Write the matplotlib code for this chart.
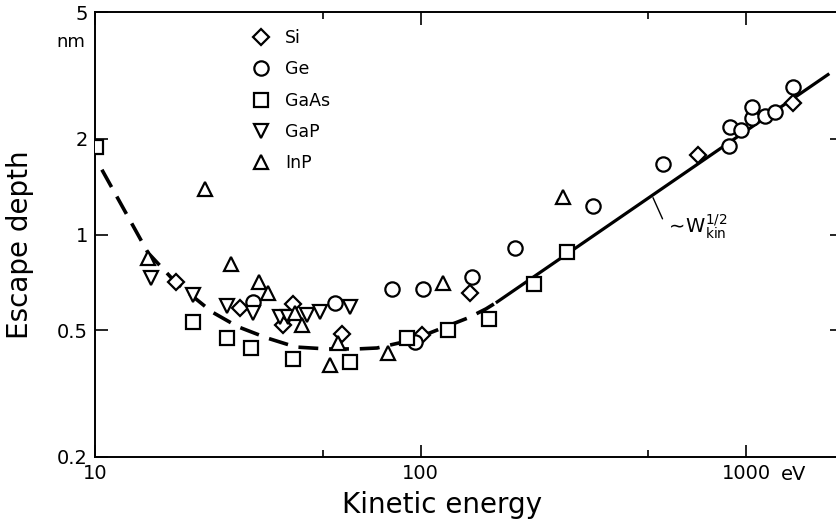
import numpy as np
import matplotlib
matplotlib.use("Agg")
import matplotlib.pyplot as plt
from matplotlib.ticker import FixedLocator, NullFormatter

plt.rcParams['font.family'] = ['DejaVu Sans']
plt.rcParams['mathtext.fontset'] = 'dejavusans'

# escape depth (nm) vs kinetic energy (eV)
si_E = [17.7, 27.9, 40.6, 37.8, 57.4, 101, 142, 712, 1395]
si_d = [0.71, 0.588, 0.605, 0.52, 0.487, 0.484, 0.656, 1.78, 2.58]

ge_E = [30.6, 54.6, 81.8, 101.8, 96, 144, 195, 339, 556, 887, 893, 966, 1043, 1043, 1144, 1228, 1395]
ge_d = [0.614, 0.61, 0.675, 0.675, 0.46, 0.736, 0.908, 1.23, 1.66, 1.90, 2.18, 2.13, 2.33, 2.52, 2.35, 2.43, 2.91]

gaas_E = [10.05, 20, 25.4, 30.2, 40.6, 60.7, 90.9, 121.5, 162, 223, 282]
gaas_d = [1.88, 0.53, 0.473, 0.44, 0.407, 0.398, 0.473, 0.502, 0.543, 0.70, 0.882]

gap_E = [14.9, 20, 25.4, 30.6, 37.0, 39.2, 44.8, 49.1, 60.7]
gap_d = [0.731, 0.646, 0.597, 0.567, 0.551, 0.551, 0.559, 0.571, 0.593]

inp_E = [14.55, 21.8, 26.2, 31.9, 34.0, 41.2, 43.2, 55.8, 52.7, 79.4, 117, 274]
inp_d = [0.845, 1.39, 0.809, 0.71, 0.656, 0.567, 0.52, 0.457, 0.389, 0.425, 0.705, 1.31]

# guide curves
dash_E = [10.5, 14.55, 17.74, 22.88, 27.5, 33.77, 41.45, 51.6, 63.8, 73.5, 86.5, 107, 140, 159, 172]
dash_d = [1.598, 0.876, 0.705, 0.571, 0.513, 0.473, 0.443, 0.437, 0.437, 0.44, 0.457, 0.491, 0.547, 0.584, 0.614]
line_E = [172, 1786]
line_d = [0.614, 3.18]

fig = plt.figure(figsize=(8.36, 5.29), dpi=100)
ax = fig.add_axes([95 / 836, 72 / 529, 741 / 836, 445 / 529])
ax.set_xscale('log')
ax.set_yscale('log')
ax.set_xlim(10, 1890)
ax.set_ylim(0.2, 5)

ax.plot(dash_E, dash_d, color='black', lw=2.6, dashes=(5.5, 3), solid_capstyle='butt', zorder=2)
ax.plot(line_E, line_d, color='black', lw=2.3, zorder=2)

mk = dict(ls='none', mfc='white', mec='black', mew=1.6, zorder=3)
ax.plot(si_E, si_d, marker='D', ms=8.6, label='Si', **mk)
ax.plot(ge_E, ge_d, marker='o', ms=10.3, label='Ge', **mk)
ax.plot(gaas_E, gaas_d, marker='s', ms=10.3, label='GaAs', **mk)
ax.plot(gap_E, gap_d, marker='v', ms=10.3, label='GaP', **mk)
ax.plot(inp_E, inp_d, marker='^', ms=10.3, label='InP', **mk)

ax.legend(loc='upper left', bbox_to_anchor=(0.212, 0.962), frameon=False,
          fontsize=12.5, handlelength=1.0, handletextpad=0.9, labelspacing=0.77,
          borderpad=0, borderaxespad=0)

ax.annotate(r'$\sim\!\mathrm{W}^{1/2}_{\mathrm{kin}}$', xy=(518, 1.305), xytext=(565, 1.06),
            fontsize=14, ha='left', va='center',
            arrowprops=dict(arrowstyle='-', lw=1, color='black', relpos=(0.0, 0.55),
                            shrinkA=0, shrinkB=0))

# axes styling
ax.spines['right'].set_visible(False)
for s in ['left', 'bottom', 'top']:
    ax.spines[s].set_linewidth(1.4)

ax.xaxis.set_major_locator(FixedLocator([10, 100, 1000]))
ax.xaxis.set_minor_locator(FixedLocator([50, 500]))
ax.xaxis.set_minor_formatter(NullFormatter())
ax.set_xticklabels(['10', '100', '1000'])
ax.yaxis.set_major_locator(FixedLocator([0.2, 0.5, 1, 2, 5]))
ax.yaxis.set_minor_locator(FixedLocator([]))
ax.set_yticklabels(['0.2', '0.5', '1', '2', '5'])

ax.tick_params(axis='x', which='major', direction='in', length=9, width=1.2,
               top=True, labelsize=14, pad=5)
ax.tick_params(axis='x', which='minor', direction='in', length=5, width=1.2, top=True)
ax.tick_params(axis='y', which='major', direction='in', length=9.5, width=1.2,
               labelsize=14, pad=5)

# unit labels next to the top / right-most tick labels
ax.annotate('eV', xy=(1000, 0.2), xytext=(25, -5.5), textcoords='offset points',
            fontsize=14, ha='left', va='top')
ax.annotate('nm', xy=(10, 5), xytext=(-7, -15), textcoords='offset points',
            fontsize=13, ha='right', va='top')

sec = ax.secondary_yaxis('right')
sec.set_yticks([0.5, 1, 2])
sec.set_yticklabels(['', '', ''])
sec.tick_params(direction='in', length=4.5, width=1.2)
sec.spines['right'].set_visible(False)

fig.text(442 / 836, 1 - 505 / 529, 'Kinetic energy', fontsize=20, ha='center', va='center')
fig.text(20 / 836, 1 - 245 / 529, 'Escape depth', fontsize=20, ha='center', va='center',
         rotation=90)

fig.savefig('out.png', dpi=100)
